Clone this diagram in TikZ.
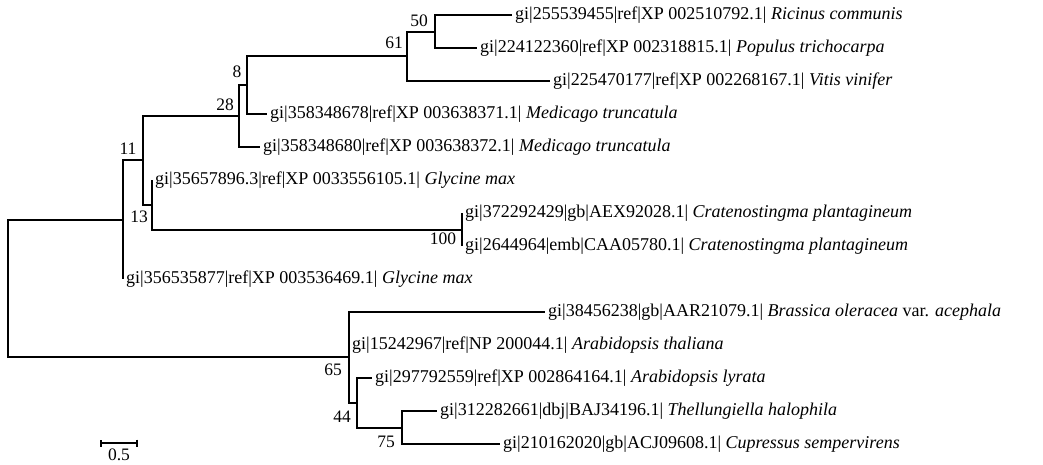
\documentclass[tikz,border=0pt]{standalone}
\usepackage{fontspec}
\setmainfont{Liberation Serif}
\usetikzlibrary{arrows.meta}

\begin{document}
\begin{tikzpicture}[
  x=1pt, y=-1pt,
  font=\fontsize{18}{20}\selectfont,
  branch/.style={line width=2pt, black},
  taxon/.style={anchor=west, inner xsep=3pt, inner ysep=0pt},
  boot/.style={inner sep=0pt, font=\fontsize{17.5}{18}\selectfont},
  scalebar/.style={line width=1.6pt, {Bar[width=7pt]}-{Bar[width=7pt]}}
]
\useasboundingbox (0,0) rectangle (1043,464);

% inner nodes of the tree
\coordinate (root) at (8,288.6);
\coordinate (nA) at (123,219.7);
\coordinate (n11) at (143,160.4);
\coordinate (n13) at (152,204.8);
\coordinate (n100) at (462,229.5);
\coordinate (n28) at (239,116);
\coordinate (n8) at (247,85.1);
\coordinate (n61) at (407,56.3);
\coordinate (n50) at (435,31.5);
\coordinate (n65) at (349,357.4);
\coordinate (n44) at (357,402.8);
\coordinate (n75) at (402,427.5);

% taxa
\node[taxon] (ricinus) at (512,15) {gi|255539455|ref|XP 002510792.1| \textit{Ricinus communis}};
\node[taxon] (populus) at (477,48) {gi|224122360|ref|XP 002318815.1| \textit{Populus trichocarpa}};
\node[taxon] (vitis) at (550,81) {gi|225470177|ref|XP 002268167.1| \textit{Vitis vinifer}};
\node[taxon] (medA) at (267,114) {gi|358348678|ref|XP 003638371.1| \textit{Medicago truncatula}};
\node[taxon] (medB) at (260,147) {gi|358348680|ref|XP 003638372.1| \textit{Medicago truncatula}};
\node[taxon] (glyA) at (152,180) {gi|35657896.3|ref|XP 0033556105.1| \textit{Glycine max}};
\node[taxon] (cratA) at (462,213) {gi|372292429|gb|AEX92028.1| \textit{Cratenostingma plantagineum}};
\node[taxon] (cratB) at (462,246) {gi|2644964|emb|CAA05780.1| \textit{Cratenostingma plantagineum}};
\node[taxon] (glyB) at (123,279) {gi|356535877|ref|XP 003536469.1| \textit{Glycine max}};
\node[taxon] (brassica) at (545,312) {gi|38456238|gb|AAR21079.1| \textit{Brassica oleracea} var. \textit{acephala}};
\node[taxon] (thaliana) at (349,345) {gi|15242967|ref|NP 200044.1| \textit{Arabidopsis thaliana}};
\node[taxon] (lyrata) at (372,378) {gi|297792559|ref|XP 002864164.1| \textit{Arabidopsis lyrata}};
\node[taxon] (thell) at (437,411) {gi|312282661|dbj|BAJ34196.1| \textit{Thellungiella halophila}};
\node[taxon] (cupressus) at (500,444) {gi|210162020|gb|ACJ09608.1| \textit{Cupressus sempervirens}};

% branches
\draw[branch] (root) |- (nA);
\draw[branch] (root) |- (n65);
\draw[branch] (nA) |- (n11);
\draw[branch] (nA) |- (glyB);
\draw[branch] (n11) |- (n28);
\draw[branch] (n11) |- (n13);
\draw[branch] (n13) |- (glyA);
\draw[branch] (n13) |- (n100);
\draw[branch] (n100) |- (cratA);
\draw[branch] (n100) |- (cratB);
\draw[branch] (n28) |- (n8);
\draw[branch] (n28) |- (medB);
\draw[branch] (n8) |- (n61);
\draw[branch] (n8) |- (medA);
\draw[branch] (n61) |- (n50);
\draw[branch] (n61) |- (vitis);
\draw[branch] (n50) |- (ricinus);
\draw[branch] (n50) |- (populus);
\draw[branch] (n65) |- (brassica);
\draw[branch] (n65) |- (thaliana);
\draw[branch] (n65) |- (n44);
\draw[branch] (n44) |- (lyrata);
\draw[branch] (n44) |- (n75);
\draw[branch] (n75) |- (thell);
\draw[branch] (n75) |- (cupressus);

% bootstrap values
\node[boot] (b50) at (419,21) {50};
\node[boot] (b61) at (394,43) {61};
\node[boot] (b8) at (237,72) {8};
\node[boot] (b28) at (225,105) {28};
\node[boot] (b11) at (128,149) {11};
\node[boot] (b13) at (139,217) {13};
\node[boot] (b100) at (443,239) {100};
\node[boot] (b65) at (333,370) {65};
\node[boot] (b44) at (342,417) {44};
\node[boot] (b75) at (386,442) {75};

% scale bar
\coordinate (sbL) at (100,443);
\coordinate (sbR) at (138,443);
\draw[scalebar] (sbL) -- (sbR);
\node[boot] (sbtext) at (119,455) {0.5};
\end{tikzpicture}
\end{document}
